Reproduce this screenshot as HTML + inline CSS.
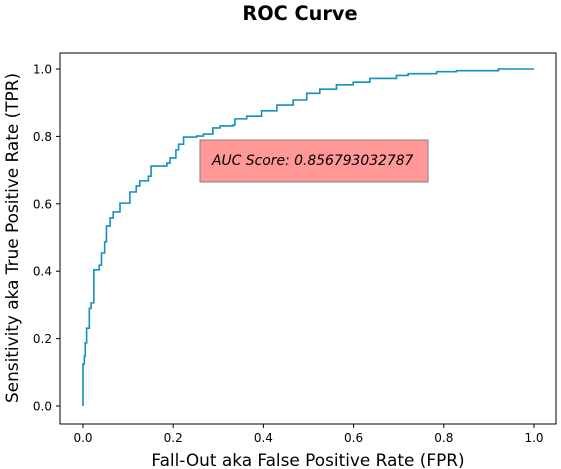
<!DOCTYPE html>
<html><head><meta charset="utf-8"><style>
body{margin:0;background:#fff}
svg{display:block;font-family:"DejaVu Sans","Liberation Sans",sans-serif}
</style></head><body>
<svg id="chart" width="561" height="469" xmlns="http://www.w3.org/2000/svg">
<text x="300" y="20" text-anchor="middle" font-size="19.3" font-weight="bold">ROC Curve</text>
<rect x="60" y="53" width="496" height="371" fill="none" stroke="#000" stroke-width="1"/>
<g id="xticks"></g>
<g id="yticks"></g>
<path id="curve" fill="none" stroke="#138fc0" stroke-width="1.6"/>
<rect x="200" y="140" width="228" height="42" fill="#ff9896" stroke="#808080" stroke-width="1"/>
<text x="212" y="165" font-size="13.9" font-style="italic">AUC Score: 0.856793032787</text>
<text x="308" y="466" text-anchor="middle" font-size="16.9">Fall-Out aka False Positive Rate (FPR)</text>
<text transform="translate(18,238) rotate(-90)" text-anchor="middle" font-size="16.9">Sensitivity aka True Positive Rate (TPR)</text>
</svg>
<script>
const fpr=[0,0,0.003,0.005,0.008,0.014,0.018,0.024,0.036,0.041,0.048,0.052,0.06,0.067,0.082,0.104,0.118,0.126,0.145,0.151,0.186,0.193,0.206,0.212,0.223,0.252,0.267,0.288,0.304,0.333,0.337,0.363,0.396,0.43,0.466,0.496,0.525,0.562,0.599,0.636,0.695,0.721,0.784,0.828,0.921,1.0];
const tpr=[0,0.125,0.148,0.187,0.231,0.29,0.306,0.404,0.418,0.454,0.487,0.534,0.558,0.576,0.602,0.635,0.653,0.668,0.682,0.712,0.721,0.736,0.76,0.777,0.798,0.801,0.807,0.825,0.831,0.834,0.852,0.86,0.876,0.893,0.908,0.928,0.94,0.953,0.961,0.972,0.981,0.986,0.992,0.995,1.0,1.0];
const tickVals=[0,0.2,0.4,0.6,0.8,1.0];
const tickLabels=["0.0","0.2","0.4","0.6","0.8","1.0"];
const sx=v=>83+v*451, sy=v=>406-v*337;
const NS="http://www.w3.org/2000/svg";
let d="M"+sx(fpr[0])+","+sy(tpr[0]);
for(let i=1;i<fpr.length;i++){d+=" L"+sx(fpr[i])+","+sy(tpr[i-1])+" L"+sx(fpr[i])+","+sy(tpr[i]);}
document.getElementById('curve').setAttribute('d',d);
const xg=document.getElementById('xticks'),yg=document.getElementById('yticks');
tickVals.forEach((v,i)=>{
 let l=document.createElementNS(NS,'line');
 l.setAttribute('x1',sx(v));l.setAttribute('x2',sx(v));l.setAttribute('y1',424);l.setAttribute('y2',428);l.setAttribute('stroke','#000');
 
 
 xg.appendChild(l);
 let t=document.createElementNS(NS,'text');
 t.setAttribute('x',sx(v));t.setAttribute('y',442);t.setAttribute('text-anchor','middle');t.setAttribute('font-size','12');t.textContent=tickLabels[i];
 
 
 xg.appendChild(t);
 let l2=document.createElementNS(NS,'line');
 l2.setAttribute('x1',56);l2.setAttribute('x2',60);l2.setAttribute('y1',sy(v));l2.setAttribute('y2',sy(v));l2.setAttribute('stroke','#000');
 
 
 yg.appendChild(l2);
 let t2=document.createElementNS(NS,'text');
 t2.setAttribute('x',52);t2.setAttribute('y',sy(v)+4.5);t2.setAttribute('text-anchor','end');t2.setAttribute('font-size','12');t2.textContent=tickLabels[i];
 
 
 yg.appendChild(t2);
});
</script>
</body></html>
